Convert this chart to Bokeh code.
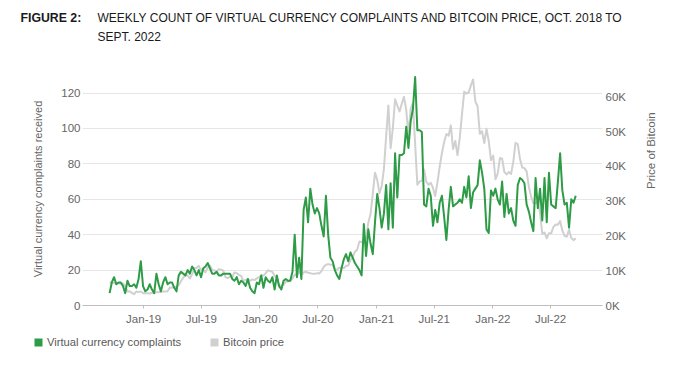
import math
import datetime as dt
import pandas as pd
from bokeh.plotting import figure
from bokeh.layouts import column
from bokeh.models import (Range1d, LinearAxis, FixedTicker, DatetimeTickFormatter,
                          Label, Legend, LegendItem, ColumnDataSource)
from bokeh.embed import file_html
from bokeh.resources import INLINE

# ---------------- data ----------------
first_week = "2018-09-16"

complaints = [
    7, 13, 16, 12, 13, 13, 11, 7, 14, 11,
    11, 12, 10, 15, 25, 11, 8, 9, 12, 9,
    7, 18, 12, 8, 13, 16, 12, 13, 13, 10,
    8, 17, 19, 18, 17, 20, 18, 22, 20, 17,
    20, 16, 21, 22, 24, 21, 18, 18, 19, 17,
    17, 18, 18, 18, 18, 15, 14, 16, 12, 14,
    13, 11, 15, 10, 8, 7, 13, 12, 17, 10,
    16, 14, 13, 16, 9, 17, 11, 9, 14, 15,
    14, 14, 19, 40, 16, 27, 15, 54, 61, 47,
    66, 57, 52, 55, 52, 45, 39, 62, 40, 27,
    25, 20, 17, 15, 21, 26, 29, 25, 30, 27,
    24, 22, 20, 17, 46, 28, 43, 35, 29, 47,
    63, 55, 44, 52, 68, 43, 69, 44, 86, 61,
    85, 85, 86, 101, 89, 104, 111, 129, 99, 99,
    98, 57, 56, 66, 62, 45, 54, 47, 58, 62,
    50, 37, 54, 67, 56, 57, 58, 60, 58, 67,
    61, 73, 55, 64, 66, 68, 82, 75, 66, 43,
    41, 65, 62, 66, 60, 57, 70, 50, 63, 52,
    55, 48, 45, 68, 72, 71, 69, 57, 53, 47,
    42, 72, 55, 66, 48, 72, 47, 75, 57, 56,
    55, 70, 86, 65, 57, 58, 44, 60, 58, 62,
]

bitcoin_price = [
    # 2018
    6625, 6600, 6500, 6420, 6340, 6400, 6350, 5550, 4000, 4100, 3600, 3250, 4000, 3850,
    # 2019
    4050, 3500, 3550, 3550, 3450, 3650, 3650, 3800, 3800, 3900, 4000, 4000, 4100,
    5200, 5100, 5300, 5300, 5800, 7000, 8000, 8700, 8600, 7800, 8900, 10800, 10800,
    11400, 10200, 10500, 9500, 11000, 11500, 10200, 10100, 9800, 10400, 10300, 10000,
    8100, 7900, 8300, 8200, 9500, 9300, 8800, 8500, 7000, 7400, 7500, 7100, 7500, 7300,
    # 2020
    7800, 8200, 8700, 8600, 9300, 10100, 9900, 9700, 8500, 8000, 5400, 5800, 5900,
    6800, 6900, 7100, 7700, 8900, 8700, 9700, 8800, 9500, 9700, 9400, 9300, 9100,
    9100, 9300, 9200, 9900, 11100, 11700, 11900, 11700, 11700, 10300, 10300, 10900,
    10800, 10700, 11400, 11500, 13100, 13800, 15500, 16000, 18400, 18200, 19100,
    19300, 23800, 26300,
    # 2021
    32000, 38200, 36100, 32300, 34300, 39300, 48700, 57500, 45200, 51000, 59300,
    57500, 55800, 58000, 60000, 56200, 49000, 56600, 58200, 46400, 34700, 35700,
    35800, 39100, 35600, 34700, 35300, 33800, 31500, 35400, 39900, 43800, 47000,
    49300, 48800, 51800, 45000, 47300, 43200, 48200, 55000, 61500, 60900, 61300,
    63300, 65000, 58600, 57300, 49400, 50100, 46700, 50800,
    # 2022
    47300, 41800, 43100, 36300, 37900, 42400, 42200, 38400, 37700, 38400, 37800,
    41300, 46800, 46400, 42200, 39700, 39500, 38500, 34100, 31300, 29400, 29400,
    29900, 26600, 20600, 21000, 19300, 20800, 20800, 22600, 23300, 23200, 24300,
    21500, 20000, 19800, 21800, 19400, 18800, 19300,
]

left_ticks = [0, 20, 40, 60, 80, 100, 120]
right_ticks = [0, 10000, 20000, 30000, 40000, 50000, 60000]
right_tick_labels = ["0K", "10K", "20K", "30K", "40K", "50K", "60K"]
x_tick_dates = ["2019-01-01", "2019-07-01", "2020-01-01", "2020-07-01",
                "2021-01-01", "2021-07-01", "2022-01-01", "2022-07-01"]
x_tick_format = "%b-%y"

title_fig = "FIGURE 2:"
title_line1 = "WEEKLY COUNT OF VIRTUAL CURRENCY COMPLAINTS  AND BITCOIN PRICE, OCT. 2018 TO"
title_line2 = "SEPT. 2022"
left_label = "Virtual currency complaints received"
right_label = "Price of Bitcoin"
legend_labels = ["Virtual currency complaints", "Bitcoin price"]

# ---------------- styles ----------------
FONT = "Liberation Sans"
GREEN = "#2E9B46"
GREY_LINE = "#D0D0D0"
TEXT = "#666666"
W = 700


def bare_fig(height):
    f = figure(width=W, height=height, x_range=Range1d(0, W), y_range=Range1d(0, height),
               output_backend="svg", toolbar_location=None,
               x_axis_location=None, y_axis_location=None,
               min_border_left=0, min_border_right=0, min_border_top=0, min_border_bottom=0)
    f.frame_align = False
    f.grid.visible = False
    f.outline_line_color = None
    f.border_fill_color = "white"
    f.background_fill_color = "white"
    return f


# ---------------- title panel ----------------
TH = 60
tfig = bare_fig(TH)
tfig.add_layout(Label(x=20, y=TH - 17, x_units="screen", y_units="screen", text=title_fig,
                      text_font=FONT, text_font_style="bold", text_font_size="12.3px",
                      text_baseline="middle", text_color="#1A1A1A"))
tfig.add_layout(Label(x=97, y=TH - 17, x_units="screen", y_units="screen", text=title_line1,
                      text_font=FONT, text_font_size="12px",
                      text_baseline="middle", text_color="#1A1A1A"))
tfig.add_layout(Label(x=97, y=TH - 36, x_units="screen", y_units="screen", text=title_line2,
                      text_font=FONT, text_font_size="12px",
                      text_baseline="middle", text_color="#1A1A1A"))

# ---------------- chart ----------------
weeks = pd.date_range(first_week, periods=len(complaints), freq="7D")
source = ColumnDataSource(dict(week=weeks, complaints=complaints, bitcoin=bitcoin_price))

CH = 270
p = figure(width=W, height=CH, x_axis_type="datetime",
           x_range=Range1d(dt.datetime(2018, 6, 23), dt.datetime(2022, 12, 11)),
           y_range=Range1d(0, 131.6),
           output_backend="svg", toolbar_location=None,
           min_border_left=82, min_border_right=98, min_border_top=12, min_border_bottom=25)
p.frame_align = False
p.extra_y_ranges = {"btc": Range1d(0, 67000)}
p.outline_line_color = None
p.background_fill_color = "white"
p.border_fill_color = "white"

p.line("week", "bitcoin", source=source, y_range_name="btc", line_color=GREY_LINE,
       line_width=2, line_join="round")
p.line("week", "complaints", source=source, line_color=GREEN, line_width=2,
       line_join="round")

p.xgrid.visible = False
p.ygrid.grid_line_color = "#E6E6E6"
p.ygrid.grid_line_width = 1
p.ygrid.ticker = FixedTicker(ticks=left_ticks)

xa = p.xaxis[0]
xa.ticker = FixedTicker(ticks=[pd.Timestamp(d).value / 1e6 for d in x_tick_dates])
xa.formatter = DatetimeTickFormatter(days=x_tick_format, months=x_tick_format,
                                     years=x_tick_format)
xa.axis_line_color = "#BFBFBF"
xa.major_tick_line_color = "#BFBFBF"
xa.major_tick_out = 3
xa.major_tick_in = 0
xa.minor_tick_line_color = None
xa.major_label_standoff = 4
xa.major_label_text_font = FONT
xa.major_label_text_font_size = "11.5px"
xa.major_label_text_color = TEXT

ya = p.yaxis[0]
ya.ticker = FixedTicker(ticks=left_ticks)
ya.axis_line_color = None
ya.major_tick_line_color = None
ya.major_tick_out = 0
ya.major_tick_in = 0
ya.minor_tick_line_color = None
ya.minor_tick_out = 0
ya.major_label_standoff = 2
ya.major_label_text_font = FONT
ya.major_label_text_font_size = "11.5px"
ya.major_label_text_color = TEXT
ya.axis_label = left_label
ya.axis_label_text_font = FONT
ya.axis_label_text_font_size = "11px"
ya.axis_label_text_font_style = "normal"
ya.axis_label_text_color = TEXT
ya.axis_label_standoff = 14

ra = LinearAxis(y_range_name="btc", ticker=FixedTicker(ticks=right_ticks))
ra.major_label_overrides = {t: l for t, l in zip(right_ticks, right_tick_labels)}
ra.axis_line_color = None
ra.major_tick_line_color = None
ra.major_tick_out = 0
ra.major_tick_in = 0
ra.minor_tick_line_color = None
ra.minor_tick_out = 0
ra.major_label_standoff = 3
ra.major_label_text_font = FONT
ra.major_label_text_font_size = "11.5px"
ra.major_label_text_color = TEXT
ra.axis_label = right_label
ra.axis_label_text_font = FONT
ra.axis_label_text_font_size = "11.5px"
ra.axis_label_text_font_style = "normal"
ra.axis_label_text_color = TEXT
ra.axis_label_standoff = 22
ra.axis_label_orientation = math.pi / 2
p.add_layout(ra, "right")

# ---------------- legend panel ----------------
LH = 35
lfig = bare_fig(LH)
nan = float("nan")
swatch_g = ColumnDataSource(dict(left=[nan], right=[nan], top=[nan], bottom=[nan]))
swatch_b = ColumnDataSource(dict(left=[nan], right=[nan], top=[nan], bottom=[nan]))
g_sw = lfig.quad(source=swatch_g, left="left", right="right", top="top", bottom="bottom",
                 fill_color=GREEN, line_color=None)
b_sw = lfig.quad(source=swatch_b, left="left", right="right", top="top", bottom="bottom",
                 fill_color=GREY_LINE, line_color=None)
legend = Legend(items=[LegendItem(label=legend_labels[0], renderers=[g_sw]),
                       LegendItem(label=legend_labels[1], renderers=[b_sw])],
                orientation="horizontal", location=(33, LH - 17.5),
                glyph_width=10, glyph_height=10, label_height=12,
                label_standoff=4, spacing=28, padding=0, margin=0,
                border_line_color=None, background_fill_alpha=0,
                label_text_font=FONT, label_text_font_size="11.2px",
                label_text_color="#595959")
lfig.add_layout(legend, "center")

layout = column(tfig, p, lfig, spacing=0)
open("out.html", "w").write(file_html(layout, INLINE))
